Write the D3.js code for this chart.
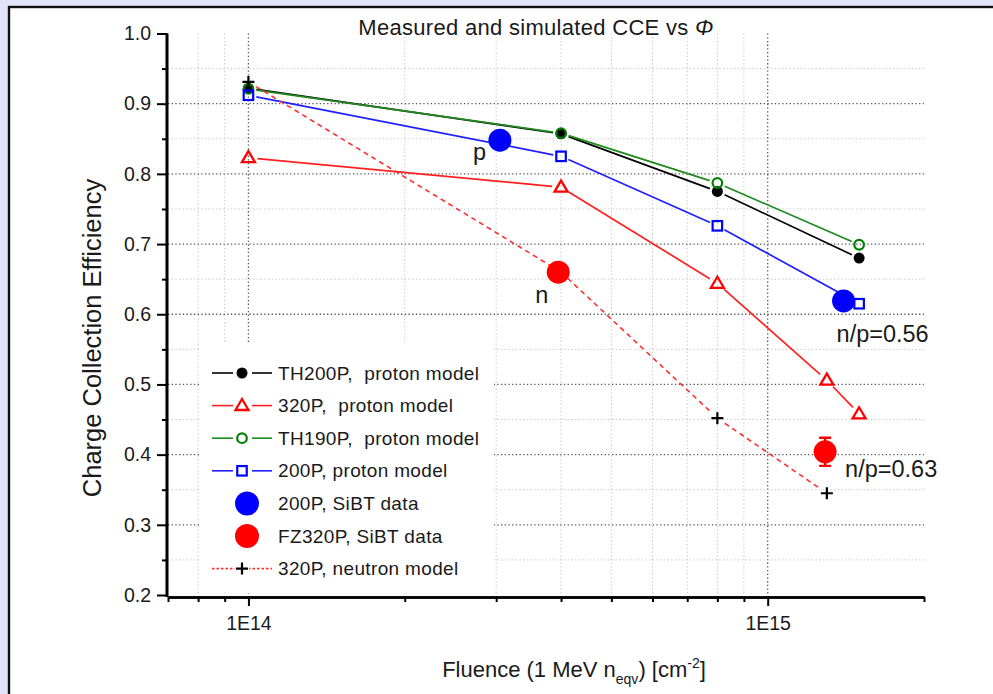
<!DOCTYPE html>
<html>
<head>
<meta charset="utf-8">
<script src="https://cdn.jsdelivr.net/npm/d3@7"></script>
<style>
  html, body { margin: 0; padding: 0; background: #e2e2f8; }
  svg { display: block; }
  text { font-family: "Liberation Sans", Arial, sans-serif; fill: #1a1a1a; }
</style>
</head>
<body>
<svg id="chart" width="993" height="694"></svg>
<script>
// ---------------- data ----------------
const fluenceProton = [1e14, 4e14, 8e14, 1.5e15];
const cceTH200P = [0.922, 0.857, 0.775, 0.680];
const cceTH190P = [0.921, 0.858, 0.787, 0.699];
const cce200P   = [0.912, 0.825, 0.726, 0.615];

const fluence320P = [1e14, 4e14, 8e14, 1.3e15, 1.5e15];
const cce320P     = [0.823, 0.781, 0.644, 0.506, 0.458];

const fluenceNeutron = [1e14, 4e14, 8e14, 1.3e15];
const cceNeutron     = [0.931, 0.660, 0.452, 0.345];

const fluenceSiBT200P = [3.05e14, 1.4e15];
const cceSiBT200P     = [0.848, 0.619];

const fluenceSiBT320P = [3.95e14, 1.29e15];
const cceSiBT320P     = [0.660, 0.404];
const errSiBT320P     = [0.005, 0.02];

const xMajorTicks = [1e14, 1e15];
const xMajorLabels = ["1E14", "1E15"];
const xMinorTicks = [7e13, 8e13, 9e13, 2e14, 3e14, 4e14, 5e14, 6e14, 7e14, 8e14, 9e14, 2e15];
const yMajorTicks = [0.2, 0.3, 0.4, 0.5, 0.6, 0.7, 0.8, 0.9, 1.0];
const yMinorTicks = [0.25, 0.35, 0.45, 0.55, 0.65, 0.75, 0.85, 0.95];

const legendLabels = ["TH200P,  proton model", "320P,  proton model", "TH190P,  proton model",
  "200P, proton model", "200P, SiBT data", "FZ320P, SiBT data", "320P, neutron model"];
const annotations = ["p", "n", "n/p=0.56", "n/p=0.63"];

// ---------------- layout ----------------
const svg = d3.select("#chart");
const x = d3.scaleLog().domain([7e13, 2e15]).range([168, 924]);
const y = d3.scaleLinear().domain([0.2, 1.0]).range([595, 33.5]);

// panel
svg.append("rect").attr("x", 0).attr("y", 0).attr("width", 993).attr("height", 694).attr("fill", "#e2e2f8");
svg.append("rect").attr("x", 9).attr("y", 7).attr("width", 1000).attr("height", 700)
  .attr("fill", "#ffffff").attr("stroke", "#111").attr("stroke-width", 2.4);

// grid
const g = svg.append("g");
const allX = xMinorTicks.concat(xMajorTicks).filter(v => v > 7e13 && v < 2e15);
allX.forEach(v => {
  const major = xMajorTicks.includes(v);
  g.append("line").attr("x1", x(v)).attr("x2", x(v)).attr("y1", y(1.0)).attr("y2", y(0.2))
    .attr("stroke", major ? "#555" : "#c4c4c4").attr("stroke-width", major ? 1.3 : 1)
    .attr("stroke-dasharray", "1.3,2.4");
});
yMajorTicks.concat(yMinorTicks).filter(v => v > 0.21 && v < 0.99).forEach(v => {
  const major = yMajorTicks.includes(v);
  g.append("line").attr("x1", x(7e13)).attr("x2", x(2e15)).attr("y1", y(v)).attr("y2", y(v))
    .attr("stroke", major ? "#555" : "#c4c4c4").attr("stroke-width", major ? 1.3 : 1)
    .attr("stroke-dasharray", "1.3,2.4");
});

// axes
const axisY = 597;
const xAxisMajor = d3.axisBottom(x).tickValues(xMajorTicks).tickSize(9).tickSizeOuter(0)
  .tickFormat((d, i) => xMajorLabels[i]).tickPadding(10);
const xAxisMinor = d3.axisBottom(x).tickValues(xMinorTicks).tickSize(5).tickSizeOuter(0).tickFormat("");
const gxMinor = svg.append("g").attr("transform", `translate(0,${axisY})`).call(xAxisMinor);
const gx = svg.append("g").attr("transform", `translate(0,${axisY})`).call(xAxisMajor);
[gx, gxMinor].forEach(a => {
  a.select(".domain").attr("stroke", "#000").attr("stroke-width", 2.6);
  a.selectAll(".tick line").attr("stroke", "#000").attr("stroke-width", 2);
});
gx.selectAll(".tick text").attr("font-size", 19.5).attr("fill", "#1a1a1a")
  .attr("font-family", "'Liberation Sans', Arial, sans-serif");

const yAxisMajor = d3.axisLeft(y).tickValues(yMajorTicks).tickSize(10).tickSizeOuter(0)
  .tickFormat(d3.format(".1f")).tickPadding(6);
const yAxisMinor = d3.axisLeft(y).tickValues(yMinorTicks).tickSize(5).tickSizeOuter(0).tickFormat("");
const gyMinor = svg.append("g").attr("transform", "translate(167,0)").call(yAxisMinor);
const gy = svg.append("g").attr("transform", "translate(167,0)").call(yAxisMajor);
[gy, gyMinor].forEach(a => {
  a.select(".domain").attr("stroke", "#000").attr("stroke-width", 2.6)
    .attr("d", `M0,${y(1.0)}V${axisY}`);
  a.selectAll(".tick line").attr("stroke", "#000").attr("stroke-width", 2);
});
gy.selectAll(".tick text").attr("font-size", 19.5).attr("fill", "#1a1a1a")
  .attr("font-family", "'Liberation Sans', Arial, sans-serif");

// clipped-gap line helper (Origin style: segments stop short of the markers)
function gapLine(xs, ys, color, gap, dash, width) {
  const pts = xs.map((v, i) => [x(v), y(ys[i])]);
  for (let i = 0; i < pts.length - 1; i++) {
    const [x1, y1] = pts[i], [x2, y2] = pts[i + 1];
    const len = Math.hypot(x2 - x1, y2 - y1);
    if (len <= 2 * gap) continue;
    const ux = (x2 - x1) / len, uy = (y2 - y1) / len;
    svg.append("line")
      .attr("x1", x1 + ux * gap).attr("y1", y1 + uy * gap)
      .attr("x2", x2 - ux * gap).attr("y2", y2 - uy * gap)
      .attr("stroke", color).attr("stroke-width", width || 1.7)
      .attr("stroke-dasharray", dash || null);
  }
}

// marker helpers
function filledCircle(sel, cx, cy, r, color) {
  sel.append("circle").attr("cx", cx).attr("cy", cy).attr("r", r).attr("fill", color);
}
function openCircle(sel, cx, cy, r, color) {
  sel.append("circle").attr("cx", cx).attr("cy", cy).attr("r", r).attr("fill", "none")
    .attr("stroke", color).attr("stroke-width", 2.2);
}
function openSquare(sel, cx, cy, s, color) {
  sel.append("rect").attr("x", cx - s / 2).attr("y", cy - s / 2).attr("width", s).attr("height", s)
    .attr("fill", "none").attr("stroke", color).attr("stroke-width", 2.2);
}
function openTriangle(sel, cx, cy, s, color) {
  const h = s * 0.85;
  sel.append("path")
    .attr("d", `M${cx},${cy - h * 0.6}L${cx + s / 2},${cy + h * 0.4}L${cx - s / 2},${cy + h * 0.4}Z`)
    .attr("fill", "none").attr("stroke", color).attr("stroke-width", 2.3).attr("stroke-linejoin", "miter");
}
function cross(sel, cx, cy, s, color) {
  sel.append("path").attr("d", `M${cx - s / 2},${cy}H${cx + s / 2}M${cx},${cy - s / 2}V${cy + s / 2}`)
    .attr("stroke", color).attr("stroke-width", 2.2);
}

// series lines
gapLine(fluenceProton, cceTH200P, "#000000", 8);
gapLine(fluence320P, cce320P, "#ff2020", 9);
gapLine(fluenceProton, cceTH190P, "#1f8a1f", 8);
gapLine(fluenceProton, cce200P, "#2020ff", 8);
gapLine(fluenceNeutron, cceNeutron, "#ff3030", 9, "5,4", 1.6);

// series markers
const m = svg.append("g");
fluenceProton.forEach((v, i) => filledCircle(m, x(v), y(cceTH200P[i]), 5.5, "#000"));
fluence320P.forEach((v, i) => openTriangle(m, x(v), y(cce320P[i]), 13, "#ff0000"));
fluenceProton.forEach((v, i) => openCircle(m, x(v), y(cceTH190P[i]), 4.8, "#008000"));
fluenceProton.forEach((v, i) => openSquare(m, x(v), y(cce200P[i]), 9.5, "#0000ff"));
fluenceNeutron.forEach((v, i) => cross(m, x(v), y(cceNeutron[i]), 12, "#000"));

// SiBT data
fluenceSiBT200P.forEach((v, i) => filledCircle(m, x(v), y(cceSiBT200P[i]), 11.5, "#0000ff"));
fluenceSiBT320P.forEach((v, i) => {
  const cx = x(v);
  const e = errSiBT320P[i];
  m.append("path")
    .attr("d", `M${cx},${y(cceSiBT320P[i] - e)}V${y(cceSiBT320P[i] + e)}M${cx - 6},${y(cceSiBT320P[i] + e)}H${cx + 6}M${cx - 6},${y(cceSiBT320P[i] - e)}H${cx + 6}`)
    .attr("stroke", "#ff0000").attr("stroke-width", 2.4).attr("fill", "none");
  filledCircle(m, cx, y(cceSiBT320P[i]), 11.5, "#ff0000");
});

// annotations
const ann = svg.append("g").attr("font-size", 23.5);
ann.append("text").attr("x", x(fluenceSiBT200P[0]) - 27).attr("y", y(cceSiBT200P[0]) + 20).text(annotations[0]);
ann.append("text").attr("x", x(fluenceSiBT320P[0]) - 23).attr("y", y(cceSiBT320P[0]) + 31).text(annotations[1]);
ann.append("text").attr("x", x(fluenceSiBT200P[1]) - 7).attr("y", y(cceSiBT200P[1]) + 41).text(annotations[2]);
ann.append("text").attr("x", x(fluenceSiBT320P[1]) + 20).attr("y", y(cceSiBT320P[1]) + 25).text(annotations[3]);

// legend
const lg = svg.append("g");
lg.append("rect").attr("x", 200).attr("y", 343).attr("width", 294).attr("height", 250).attr("fill", "#fff");
const rowY = i => 373 + i * 32.6;
const symX = 242;
const legendSym = [
  (cy) => { legLine(cy, "#000"); filledCircle(lg, symX, cy, 5.5, "#000"); },
  (cy) => { legLine(cy, "#ff2020"); openTriangle(lg, symX, cy, 13, "#ff0000"); },
  (cy) => { legLine(cy, "#1f8a1f"); openCircle(lg, symX, cy, 4.8, "#008000"); },
  (cy) => { legLine(cy, "#2020ff"); openSquare(lg, symX, cy, 9.5, "#0000ff"); },
  (cy) => { filledCircle(lg, symX + 5, cy, 12, "#0000ff"); },
  (cy) => { filledCircle(lg, symX + 5, cy, 12, "#ff0000"); },
  (cy) => {
    lg.append("line").attr("x1", 212).attr("x2", 272).attr("y1", cy).attr("y2", cy)
      .attr("stroke", "#ff3030").attr("stroke-width", 1.6).attr("stroke-dasharray", "2.5,2");
    lg.append("rect").attr("x", symX - 7).attr("y", cy - 3).attr("width", 14).attr("height", 6).attr("fill", "#fff");
    cross(lg, symX, cy, 12, "#000");
  }
];
function legLine(cy, color) {
  lg.append("line").attr("x1", 212).attr("x2", 233).attr("y1", cy).attr("y2", cy).attr("stroke", color).attr("stroke-width", 1.6);
  lg.append("line").attr("x1", 252).attr("x2", 272).attr("y1", cy).attr("y2", cy).attr("stroke", color).attr("stroke-width", 1.6);
}
legendLabels.forEach((lab, i) => {
  const cy = rowY(i);
  legendSym[i](cy);
  lg.append("text").attr("x", 278).attr("y", cy + 6.5).attr("font-size", 19).attr("letter-spacing", 0.35)
    .attr("xml:space", "preserve").text(lab);
});

// title
const title = svg.append("text").attr("x", 536).attr("y", 35).attr("text-anchor", "middle")
  .attr("font-size", 22).attr("letter-spacing", 0.3);
title.append("tspan").text("Measured and simulated CCE vs ");
title.append("tspan").attr("font-style", "italic").text("Φ");

// y label
svg.append("text").attr("transform", "translate(101,338) rotate(-90)").attr("text-anchor", "middle")
  .attr("font-size", 25.5).text("Charge Collection Efficiency");

// x label
const xl = svg.append("text").attr("x", 574).attr("y", 677).attr("text-anchor", "middle").attr("font-size", 22);
xl.append("tspan").text("Fluence (1 MeV n");
xl.append("tspan").attr("font-size", 14).attr("dy", 7).text("eqv");
xl.append("tspan").attr("dy", -7).text(") [cm");
xl.append("tspan").attr("font-size", 14).attr("dy", -9).text("-2");
xl.append("tspan").attr("dy", 9).text("]");
</script>
</body>
</html>
